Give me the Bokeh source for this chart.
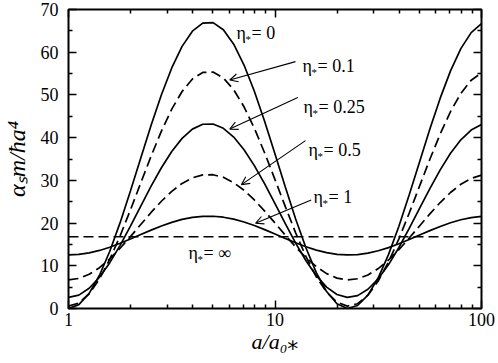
import math
from bokeh.plotting import figure
from bokeh.models import (Label, Arrow, OpenHead, FixedTicker, LogAxis, LinearAxis,
                          PrintfTickFormatter, Range1d)
from bokeh.embed import file_html
from bokeh.resources import INLINE

# ---------------- data ----------------
a_values = [1.0, 1.122, 1.259, 1.413, 1.585, 1.778, 1.995, 2.239, 2.512, 2.818,
            3.162, 3.548, 3.981, 4.467, 5.012, 5.623, 6.310, 7.079, 7.943, 8.913,
            10.0, 11.22, 12.59, 14.13, 15.85, 17.78, 19.95, 22.39, 25.12, 28.18,
            31.62, 35.48, 39.81, 44.67, 50.12, 56.23, 63.10, 70.79, 79.43, 89.13, 100.0]

alpha_eta_0 = [0.00, 0.90, 3.54, 7.78, 13.40, 20.10, 27.52, 35.26, 42.91, 50.05,
               56.32, 61.37, 64.93, 66.82, 66.93, 65.25, 61.88, 57.00, 50.86, 43.80,
               36.19, 28.44, 20.96, 14.16, 8.39, 3.97, 1.12, 0.01, 0.70, 3.13,
               7.19, 12.67, 19.25, 26.61, 34.32, 42.01, 49.24, 55.63, 60.84, 64.59, 66.68]

alpha_eta_01 = [0.55, 1.28, 3.45, 6.92, 11.53, 17.01, 23.08, 29.42, 35.68, 41.53,
                46.66, 50.80, 53.72, 55.26, 55.35, 53.98, 51.22, 47.22, 42.19, 36.41,
                30.18, 23.84, 17.71, 12.14, 7.42, 3.80, 1.47, 0.56, 1.12, 3.11,
                6.44, 10.92, 16.31, 22.33, 28.65, 34.94, 40.86, 46.10, 50.36, 53.43, 55.15]

alpha_eta_025 = [2.60, 3.14, 4.75, 7.32, 10.73, 14.79, 19.29, 23.99, 28.63, 32.96,
                 36.76, 39.83, 41.99, 43.13, 43.19, 42.18, 40.13, 37.17, 33.45, 29.17,
                 24.55, 19.85, 15.32, 11.19, 7.69, 5.01, 3.28, 2.61, 3.02, 4.50,
                 6.96, 10.28, 14.28, 18.74, 23.42, 28.08, 32.46, 36.34, 39.50, 41.78, 43.05]

alpha_eta_05 = [6.70, 7.03, 8.00, 9.56, 11.63, 14.10, 16.82, 19.67, 22.49, 25.11,
                27.42, 29.28, 30.59, 31.28, 31.32, 30.71, 29.47, 27.67, 25.41, 22.81,
                20.01, 17.16, 14.41, 11.91, 9.79, 8.16, 7.11, 6.71, 6.96, 7.85,
                9.35, 11.36, 13.78, 16.49, 19.33, 22.15, 24.81, 27.16, 29.08, 30.46, 31.23]

alpha_eta_1 = [12.54, 12.66, 13.02, 13.59, 14.35, 15.26, 16.26, 17.31, 18.35, 19.31,
               20.16, 20.85, 21.33, 21.58, 21.60, 21.37, 20.92, 20.25, 19.42, 18.47,
               17.44, 16.39, 15.38, 14.46, 13.68, 13.08, 12.69, 12.54, 12.63, 12.96,
               13.51, 14.25, 15.15, 16.14, 17.19, 18.23, 19.20, 20.07, 20.77, 21.28, 21.57]

alpha_eta_inf = 16.8

x_major_ticks = [1, 10, 100]
x_minor_ticks = [2, 3, 4, 5, 6, 7, 8, 9, 20, 30, 40, 50, 60, 70, 80, 90]
y_major_ticks = [0, 10, 20, 30, 40, 50, 60, 70]
y_minor_ticks = [5, 15, 25, 35, 45, 55, 65]

eta_texts = ["0", "0.1", "0.25", "0.5", "1", "\u221e"]
x_title = "a/a\u2080\u204e"
y_title = "\u03b1\u209bm/\u0127a\u2074"

# ---------------- figure ----------------
FONT = "Liberation Serif"
p = figure(width=498, height=363, x_axis_type="log",
           x_range=Range1d(1, 100), y_range=Range1d(0, 70),
           output_backend="svg", toolbar_location=None,
           min_border_left=68, min_border_right=17,
           min_border_top=9, min_border_bottom=55)
p.background_fill_color = "white"
p.border_fill_color = "white"
p.xgrid.visible = False
p.ygrid.visible = False
p.outline_line_color = "black"
p.outline_line_width = 2
p.outline_line_alpha = 1.0

xticker = FixedTicker(ticks=x_major_ticks, minor_ticks=x_minor_ticks)
yticker = FixedTicker(ticks=y_major_ticks, minor_ticks=y_minor_ticks)


def style_axis(ax, labels=True):
    ax.axis_line_color = None
    ax.major_tick_in = 8
    ax.major_tick_out = 0
    ax.minor_tick_in = 4
    ax.minor_tick_out = 0
    ax.major_tick_line_width = 1.5
    ax.minor_tick_line_width = 1.5
    ax.major_tick_line_color = "black"
    ax.minor_tick_line_color = "black"
    ax.major_label_text_font = FONT
    if labels:
        ax.major_label_text_font_size = "18px"
        ax.major_label_text_color = "black"
    else:
        ax.major_label_text_font_size = "1px"
        ax.major_label_text_color = None
        ax.major_label_standoff = 0


xa = p.xaxis[0]
xa.ticker = xticker
xa.formatter = PrintfTickFormatter(format="%d")
style_axis(xa)
xa.major_label_standoff = 4
xa.axis_label = x_title
xa.axis_label_text_font = "Liberation Serif, DejaVu Sans"
xa.axis_label_text_font_style = "italic"
xa.axis_label_text_font_size = "22px"
xa.axis_label_text_color = "black"
xa.axis_label_standoff = 0

ya = p.yaxis[0]
ya.ticker = yticker
ya.formatter = PrintfTickFormatter(format="%d")
style_axis(ya)
ya.major_label_standoff = 10
ya.axis_label = y_title
ya.axis_label_text_font = FONT
ya.axis_label_text_font_style = "italic"
ya.axis_label_text_font_size = "24px"
ya.axis_label_text_color = "black"
ya.axis_label_standoff = 8

top_ax = LogAxis(ticker=xticker)
style_axis(top_ax, labels=False)
p.add_layout(top_ax, "above")

right_ax = LinearAxis(ticker=yticker)
style_axis(right_ax, labels=False)
p.add_layout(right_ax, "right")

# ---------------- curves ----------------
LW = 1.7
DASH = "10 5"
p.line(a_values, alpha_eta_0, line_color="black", line_width=LW)
p.line(a_values, alpha_eta_01, line_color="black", line_width=LW, line_dash=DASH)
p.line(a_values, alpha_eta_025, line_color="black", line_width=LW)
p.line(a_values, alpha_eta_05, line_color="black", line_width=LW, line_dash=DASH)
p.line(a_values, alpha_eta_1, line_color="black", line_width=LW)
p.line([a_values[0], a_values[-1]], [alpha_eta_inf, alpha_eta_inf],
       line_color="black", line_width=LW, line_dash=DASH)


# ---------------- annotations ----------------
def eta_label(x, y, txt):
    p.add_layout(Label(x=x, y=y, text="\u03b7", text_font=FONT, text_font_size="18px",
                       text_baseline="alphabetic", text_align="left", text_color="black"))
    p.add_layout(Label(x=x, y=y, text="*", text_font=FONT, text_font_size="11px",
                       text_baseline="alphabetic", text_align="left", text_color="black",
                       x_offset=9, y_offset=-6))
    p.add_layout(Label(x=x, y=y, text="= " + txt, text_font=FONT, text_font_size="18px",
                       text_baseline="alphabetic", text_align="left", text_color="black",
                       x_offset=15))


eta_label(6.51, 64.4, eta_texts[0])
eta_label(13.59, 56.8, eta_texts[1])
eta_label(13.74, 47.2, eta_texts[2])
eta_label(14.53, 37.1, eta_texts[3])
eta_label(15.37, 26.0, eta_texts[4])
eta_label(3.81, 12.9, eta_texts[5])


def arrow(xs, ys, xe, ye):
    p.add_layout(Arrow(end=OpenHead(size=8, line_width=1.1, line_color="black"),
                       x_start=xs, y_start=ys, x_end=xe, y_end=ye,
                       line_width=1.1, line_color="black"))


arrow(12.57, 57.8, 6.04, 53.5)
arrow(12.89, 49.4, 6.04, 42.0)
arrow(14.05, 39.3, 6.88, 29.0)
arrow(14.97, 25.4, 8.05, 19.95)

open("out.html", "w").write(file_html(p, INLINE))
